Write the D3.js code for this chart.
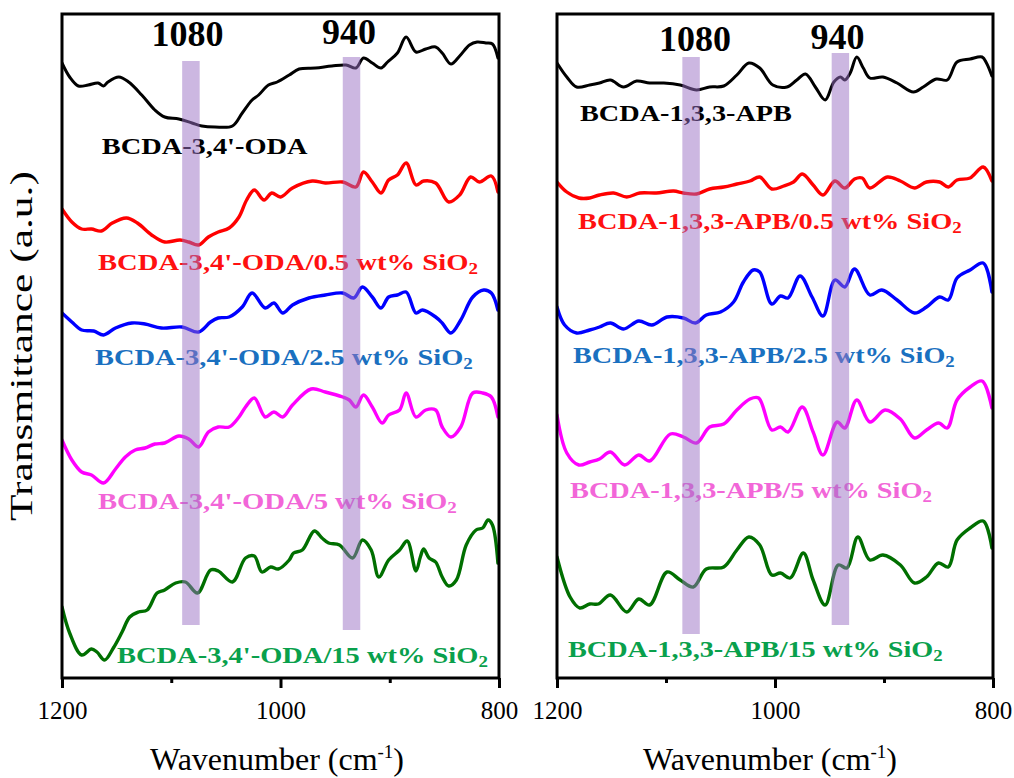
<!DOCTYPE html>
<html>
<head>
<meta charset="utf-8">
<script src="https://cdn.jsdelivr.net/npm/d3@7"></script>
<style>
  html, body { margin: 0; padding: 0; background: #fff; }
  svg { display: block; }
</style>
</head>
<body>
<svg id="chart" width="1014" height="778"></svg>
<script>
// ---------------- DATA ----------------
// Wavenumber axis
const xDomain = [1200, 800];
const tickMajor = [1200, 1000, 800];
const tickMinor = [1100, 900];
const yDomain = [0, 664]; // transmittance, arbitrary units (stacked, offset)

// Left panel: BCDA-3,4'-ODA series
const odaNeatWn = [1200,1193,1185,1176,1167,1162,1158,1148,1139,1127,1115,1106,1093,1081,1072,1060,1044,1035,1026,1020,1011,1003,992,983,968,953,940,931,924,916,908,902,893,885,876,867,858,852,844,836,827,820,812,806,801];
const odaNeatT  = [615,601,592,593,595,592,596,601,596,583,568,561,559,555,552,551,552,565,578,583,593,596,603,609,610,612,613,610,620,615,610,616,625,641,626,629,631,625,614,622,633,636,635,634,620];

const oda05Wn = [1200,1191,1182,1173,1164,1154,1141,1131,1118,1106,1092,1084,1075,1066,1057,1047,1038,1031,1024,1015,1008,1000,989,971,959,943,931,924,916,908,901,893,885,876,869,858,846,836,826,818,807,801];
const oda05T  = [469,456,449,449,447,455,460,455,443,436,438,436,433,441,446,450,461,478,488,478,485,481,490,497,495,496,491,506,496,485,498,503,515,493,497,495,476,483,501,496,502,486];

const oda25Wn = [1200,1191,1182,1171,1162,1151,1136,1124,1109,1090,1075,1064,1057,1047,1035,1026,1014,1006,998,989,974,959,943,933,925,916,908,901,893,885,876,870,858,852,844,835,824,814,807,801];
const oda25T  = [365,356,348,347,343,350,355,354,350,351,346,356,360,361,371,385,370,375,365,373,380,383,385,380,391,381,370,381,383,386,365,368,361,355,345,358,381,388,385,368];

const oda5Wn = [1200,1191,1182,1173,1162,1151,1142,1133,1124,1115,1106,1093,1084,1075,1066,1057,1047,1038,1032,1024,1014,1006,998,989,972,959,943,937,931,924,916,907,901,891,885,876,867,858,852,844,835,824,815,807,801];
const oda5T  = [238,218,206,203,195,209,221,228,230,234,235,242,239,231,246,251,251,261,271,280,261,266,261,273,289,286,281,278,271,283,271,255,263,268,285,261,268,268,251,241,251,285,285,281,261];

const oda15Wn = [1200,1193,1182,1173,1168,1161,1153,1145,1138,1130,1122,1113,1106,1096,1087,1076,1064,1057,1044,1032,1024,1017,1009,1002,992,988,980,969,962,956,946,934,925,917,910,901,891,884,876,872,869,864,858,852,846,839,830,821,815,810,806,801];
const oda15T  = [71,45,23,29,26,18,30,46,61,66,68,85,88,95,96,85,108,107,96,120,122,106,111,109,118,125,128,147,140,135,133,120,138,128,101,118,128,137,107,121,129,120,116,101,92,98,133,148,150,158,153,115];

// Right panel: BCDA-1,3,3-APB series
const apbNeatWn = [1200,1191,1182,1170,1161,1151,1139,1127,1115,1102,1087,1072,1060,1047,1035,1024,1014,1002,989,980,972,963,954,946,940,936,931,925,919,913,901,888,873,864,852,842,833,821,810,806,801];
const apbNeatT  = [615,601,591,593,595,598,591,597,595,595,593,588,591,592,603,615,610,593,591,598,604,591,578,596,601,598,605,621,610,600,601,595,586,591,599,598,616,619,621,615,602];

const apb05Wn = [1200,1191,1180,1170,1161,1148,1136,1124,1109,1093,1084,1072,1060,1047,1035,1023,1014,1003,992,983,975,965,956,945,936,927,920,913,897,885,872,861,849,841,833,821,809,801];
const apb05T  = [496,486,480,480,483,485,481,485,485,487,485,484,489,491,494,497,501,489,492,496,504,493,483,497,490,499,500,490,501,497,490,496,496,491,498,500,511,497];

const apb25Wn = [1200,1193,1182,1170,1161,1151,1139,1125,1113,1099,1084,1073,1063,1050,1038,1029,1020,1014,1003,995,988,977,966,956,945,936,927,913,902,888,872,861,849,841,833,821,809,801];
const apb25T  = [371,353,345,348,351,355,349,357,353,361,360,355,363,366,376,396,408,406,374,382,380,402,381,362,398,391,409,383,388,378,365,371,381,378,400,408,415,386];

const apb5Wn = [1200,1191,1180,1170,1161,1151,1138,1125,1115,1096,1084,1072,1060,1047,1035,1023,1015,1003,995,988,975,965,956,943,936,925,913,899,885,872,861,850,842,833,821,810,801];
const apb5T  = [263,225,213,216,219,226,213,223,217,244,241,235,251,254,268,279,280,248,251,246,271,246,223,256,250,278,256,268,259,240,248,255,250,278,291,297,270];

const apb15Wn = [1200,1188,1179,1170,1162,1151,1136,1125,1115,1099,1087,1075,1063,1047,1035,1024,1014,1003,995,986,974,965,954,942,934,924,913,901,885,872,861,850,841,833,821,809,801];
const apb15T  = [121,81,70,74,74,83,66,79,73,106,98,91,109,111,128,141,133,103,105,100,125,98,73,113,110,141,118,123,113,95,101,115,111,138,150,157,130];

// Series names (labels)
const odaLabels = ["BCDA-3,4'-ODA", "BCDA-3,4'-ODA/0.5 wt% SiO", "BCDA-3,4'-ODA/2.5 wt% SiO", "BCDA-3,4'-ODA/5 wt% SiO", "BCDA-3,4'-ODA/15 wt% SiO"];
const apbLabels = ["BCDA-1,3,3-APB", "BCDA-1,3,3-APB/0.5 wt% SiO", "BCDA-1,3,3-APB/2.5 wt% SiO", "BCDA-1,3,3-APB/5 wt% SiO", "BCDA-1,3,3-APB/15 wt% SiO"];
const labelSubscript = [false, true, true, true, true];

// Highlighted bands: label text, band centre (cm-1), vertical extent (a.u.)
const bandLabels = ["1080", "940"];
const odaBandCenters = [1082, 935];
const odaBandTop = [617, 621];
const odaBandBottom = [53, 48];
const apbBandCenters = [1077, 940];
const apbBandTop = [621, 625];
const apbBandBottom = [44, 53];
const bandHalfWidth = 8;

// ---------------- LAYOUT / STYLE ----------------
const lineColors = ["#000000", "#ff0000", "#0000ff", "#ff00ff", "#006f00"];
const labelColors = ["#000000", "#ff1010", "#1a70c0", "#f266d8", "#09a04c"];
const plotTop = 14, plotBottom = 678;

const panels = [
  { x0: 62, x1: 499,
    series: [[odaNeatWn, odaNeatT], [oda05Wn, oda05T], [oda25Wn, oda25T], [oda5Wn, oda5T], [oda15Wn, oda15T]],
    labels: odaLabels,
    labelPos: [[101.7,154,206],[98,270,380],[95,365,378],[98,509,359],[117,663,371]],
    bands: { c: odaBandCenters, t: odaBandTop, b: odaBandBottom },
    bandLabelPos: [[187.5,46],[349,43.5]],
    title: 277 },
  { x0: 557, x1: 993,
    series: [[apbNeatWn, apbNeatT], [apb05Wn, apb05T], [apb25Wn, apb25T], [apb5Wn, apb5T], [apb15Wn, apb15T]],
    labels: apbLabels,
    labelPos: [[580,121,212],[578,229,384],[573,363,382],[570,498,362],[568,657,375]],
    bands: { c: apbBandCenters, t: apbBandTop, b: apbBandBottom },
    bandLabelPos: [[695,50.5],[837.5,48.5]],
    title: 770 }
];

const svg = d3.select("#chart");
const serif = "'Liberation Serif','Times New Roman',serif";

// stretch a text element horizontally so that it spans targetWidth
function fitWidth(sel, tx, ty, targetWidth, extra) {
  const w = sel.node().getComputedTextLength();
  const s = w > 0 ? targetWidth / w : 1;
  sel.attr("x", 0).attr("y", 0)
     .attr("transform", `translate(${tx},${ty}) ${extra || ""} scale(${s},1)`);
}

panels.forEach(p => {
  const x = d3.scaleLinear().domain(xDomain).range([p.x0, p.x1]);
  const y = d3.scaleLinear().domain(yDomain).range([plotBottom, plotTop]);
  const g = svg.append("g");

  const clipId = "clip" + p.x0;
  svg.append("clipPath").attr("id", clipId)
    .append("rect").attr("x", p.x0).attr("y", plotTop).attr("width", p.x1 - p.x0).attr("height", plotBottom - plotTop);

  const line = d3.line()
    .x(d => x(d[0])).y(d => y(d[1]))
    .curve(d3.curveCatmullRom.alpha(0.5));

  const lines = g.append("g").attr("clip-path", `url(#${clipId})`);
  p.series.forEach((s, i) => {
    const pts = s[0].map((w, k) => [w, s[1][k]]);
    lines.append("path").datum(pts)
      .attr("d", line)
      .attr("fill", "none")
      .attr("stroke", lineColors[i])
      .attr("stroke-width", i === 0 ? 3 : 3.4)
      .attr("stroke-linejoin", "round")
      .attr("stroke-linecap", "round");
  });

  // series labels
  p.labels.forEach((t, i) => {
    const [lx, ly, lw] = p.labelPos[i];
    const txt = g.append("text")
      .attr("font-family", serif)
      .attr("font-weight", "bold")
      .attr("font-size", 24)
      .attr("fill", labelColors[i]);
    txt.append("tspan").text(t);
    if (labelSubscript[i]) {
      txt.append("tspan").attr("font-size", 16).attr("dy", 4).text("2");
    }
    fitWidth(txt, lx, ly, lw);
  });

  // band labels
  bandLabels.forEach((t, i) => {
    g.append("text")
      .attr("x", p.bandLabelPos[i][0]).attr("y", p.bandLabelPos[i][1])
      .attr("text-anchor", "middle")
      .attr("font-family", serif)
      .attr("font-weight", "bold")
      .attr("font-size", 36)
      .attr("fill", "#000")
      .text(t);
  });

  // bands (semi-transparent, on top)
  p.bands.c.forEach((c, i) => {
    g.append("rect")
      .attr("x", x(c + bandHalfWidth))
      .attr("width", x(c - bandHalfWidth) - x(c + bandHalfWidth))
      .attr("y", y(p.bands.t[i]))
      .attr("height", y(p.bands.b[i]) - y(p.bands.t[i]))
      .attr("fill", "#9a70c4")
      .attr("opacity", 0.5);
  });

  // frame
  g.append("rect")
    .attr("x", p.x0).attr("y", plotTop)
    .attr("width", p.x1 - p.x0).attr("height", plotBottom - plotTop)
    .attr("fill", "none").attr("stroke", "#000").attr("stroke-width", 3);

  // axis
  const axis = d3.axisBottom(x).tickValues(tickMajor).tickSize(10).tickPadding(8).tickFormat(d3.format("d"));
  const ax = g.append("g").attr("transform", `translate(0,${plotBottom})`).call(axis);
  ax.select(".domain").remove();
  ax.selectAll(".tick line").attr("stroke", "#000").attr("stroke-width", 3);
  ax.selectAll(".tick text")
    .attr("font-family", serif).attr("font-size", 25).attr("fill", "#000")
    .attr("dy", "0.9em");
  const axMinor = d3.axisBottom(x).tickValues(tickMinor).tickSize(5).tickFormat("");
  const am = g.append("g").attr("transform", `translate(0,${plotBottom})`).call(axMinor);
  am.select(".domain").remove();
  am.selectAll(".tick line").attr("stroke", "#000").attr("stroke-width", 3);

  // x title
  const tt = g.append("text")
    .attr("x", p.title).attr("y", 770)
    .attr("text-anchor", "middle")
    .attr("font-family", serif).attr("font-size", 32).attr("fill", "#000");
  tt.append("tspan").text("Wavenumber (cm");
  tt.append("tspan").attr("font-size", 19).attr("dy", -12).text("-1");
  tt.append("tspan").attr("dy", 12).text(")");
});

// y title
const yt = svg.append("text")
  .attr("text-anchor", "middle")
  .attr("font-family", serif).attr("font-size", 31).attr("fill", "#000")
  .text("Transmittance (a.u.)");
fitWidth(yt, 32, 346, 350, "rotate(-90)");
</script>
</body>
</html>
